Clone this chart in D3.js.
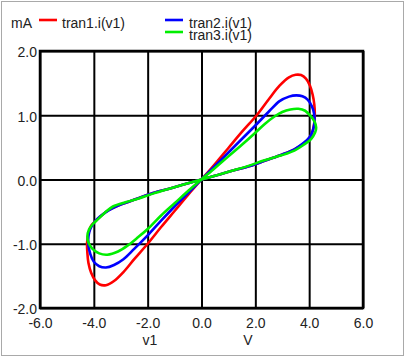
<!DOCTYPE html>
<html>
<head>
<meta charset="utf-8">
<script src="https://cdn.jsdelivr.net/npm/d3@7"></script>
<style>
html,body{margin:0;padding:0;background:#fff;}
svg{display:block;}
text{font-family:"Liberation Sans",Arial,sans-serif;}
</style>
</head>
<body>
<svg id="chart" width="406" height="358"></svg>
<script>
// ---- data (v1 in V, current in mA) ----
const xTicks = [-6, -4, -2, 0, 2, 4, 6];
const yTicks = [-2, -1, 0, 1, 2];
const seriesNames = ["tran1.i(v1)", "tran2.i(v1)", "tran3.i(v1)"];
const seriesColors = ["#ff0000", "#0000ff", "#00ee00"];

const tran1 = [[0,0],[0.6,0.07],[1.17,0.14],[1.8,0.21],[2.4,0.3],[3.0,0.39],[3.45,0.47],[3.8,0.56],[4.0,0.64],[4.12,0.74],[4.19,0.88],[4.21,1.02],[4.19,1.17],[4.13,1.32],[4.03,1.46],[3.88,1.57],[3.7,1.625],[3.5,1.63],[3.25,1.59],[2.9,1.46],[2.5,1.25],[2.05,1.0],[1.5,0.74],[1.0,0.49],[0.5,0.24],
  [-0.5,-0.24],[-1.0,-0.49],[-1.5,-0.74],[-2.0,-1.0],[-2.5,-1.24],[-2.9,-1.44],[-3.25,-1.58],[-3.55,-1.645],[-3.78,-1.635],[-3.95,-1.57],[-4.1,-1.45],[-4.2,-1.3],[-4.24,-1.14],[-4.25,-0.98],[-4.2,-0.84],[-4.1,-0.72],[-3.9,-0.63],[-3.5,-0.49],[-3.0,-0.39],[-2.4,-0.3],[-1.8,-0.21],[-1.17,-0.14],[-0.6,-0.07]];

const tran2 = [[0,0],[0.6,0.07],[1.17,0.14],[1.8,0.21],[2.4,0.3],[3.0,0.39],[3.45,0.47],[3.8,0.57],[4.02,0.66],[4.14,0.77],[4.2,0.9],[4.18,1.03],[4.1,1.14],[3.95,1.24],[3.75,1.295],[3.52,1.31],[3.25,1.29],[2.9,1.22],[2.53,1.07],[2.0,0.84],[1.5,0.63],[1.0,0.42],[0.5,0.21],
  [-0.5,-0.21],[-1.0,-0.42],[-1.5,-0.64],[-2.0,-0.87],[-2.5,-1.08],[-2.9,-1.24],[-3.25,-1.33],[-3.55,-1.37],[-3.8,-1.35],[-4.0,-1.28],[-4.13,-1.16],[-4.2,-1.02],[-4.2,-0.88],[-4.12,-0.76],[-3.95,-0.65],[-3.75,-0.57],[-3.45,-0.48],[-3.0,-0.39],[-2.4,-0.3],[-1.8,-0.21],[-1.17,-0.14],[-0.6,-0.07]];

const tran3 = [[0,0],[0.6,0.07],[1.17,0.14],[1.8,0.22],[2.34,0.3],[3.0,0.38],[3.45,0.45],[3.8,0.54],[4.07,0.63],[4.22,0.73],[4.26,0.81],[4.2,0.9],[4.05,0.99],[3.85,1.07],[3.6,1.1],[3.3,1.09],[3.0,1.05],[2.71,0.98],[2.34,0.86],[1.98,0.72],[1.5,0.54],[1.0,0.36],[0.5,0.18],
  [-0.5,-0.18],[-1.0,-0.37],[-1.5,-0.56],[-2.0,-0.77],[-2.36,-0.9],[-2.75,-1.03],[-3.1,-1.12],[-3.5,-1.17],[-3.8,-1.15],[-4.05,-1.08],[-4.2,-0.98],[-4.24,-0.89],[-4.18,-0.78],[-4.05,-0.7],[-3.9,-0.64],[-3.6,-0.52],[-3.29,-0.42],[-2.8,-0.35],[-2.36,-0.3],[-1.8,-0.22],[-1.17,-0.14],[-0.6,-0.07]];

const series = [tran1, tran2, tran3];

// ---- layout ----
const svg = d3.select("#chart");
const L = 40, R = 363, T = 51, B = 308;
const W = R - L, H = B - T;
const textColor = "#222";

// outer window border
svg.append("rect").attr("x", 0).attr("y", 0).attr("width", 406).attr("height", 358).attr("fill", "#fff");
svg.append("rect").attr("x", 1.5).attr("y", 1.5).attr("width", 402).attr("height", 354)
  .attr("fill", "none").attr("stroke", "#a9a9a9").attr("stroke-width", 1);

const x = d3.scaleLinear().domain([-6, 6]).range([L, R]);
const y = d3.scaleLinear().domain([-2, 2]).range([B, T]);
const fmt = d => d.toFixed(1);

// grid + tick labels via axes
const gx = svg.append("g").attr("transform", `translate(0,${B})`)
  .call(d3.axisBottom(x).tickValues(xTicks).tickFormat(fmt).tickSizeInner(-H).tickSizeOuter(0).tickPadding(10));
const gy = svg.append("g").attr("transform", `translate(${L},0)`)
  .call(d3.axisLeft(y).tickValues(yTicks).tickFormat(fmt).tickSizeInner(-W).tickSizeOuter(0).tickPadding(3));
[gx, gy].forEach(g => {
  g.select(".domain").remove();
  g.selectAll(".tick line").attr("stroke", "#000").attr("stroke-width", 2);
  g.selectAll(".tick text").attr("fill", textColor).style("font-size", "14px")
    .style("font-family", '"Liberation Sans", Arial, sans-serif');
});
gy.selectAll(".tick text").attr("dy", "0.42em");

// frame
svg.append("rect").attr("x", L).attr("y", T).attr("width", W).attr("height", H)
  .attr("fill", "none").attr("stroke", "#000").attr("stroke-width", 2.5);

// curves
const clip = svg.append("clipPath").attr("id", "pc").append("rect")
  .attr("x", L).attr("y", T).attr("width", W).attr("height", H);
const line = d3.line().x(d => x(d[0])).y(d => y(d[1])).curve(d3.curveCatmullRomClosed.alpha(0.5));
series.forEach((s, k) => {
  svg.append("path").datum(s).attr("d", line).attr("fill", "none")
    .attr("stroke", seriesColors[k]).attr("stroke-width", 2.6).attr("stroke-linejoin", "round")
    .attr("clip-path", "url(#pc)");
});

// axis titles
svg.append("text").attr("x", 150).attr("y", 345).attr("text-anchor", "middle")
  .attr("fill", textColor).style("font-size", "14px").text("v1");
svg.append("text").attr("x", 248).attr("y", 345).attr("text-anchor", "middle")
  .attr("fill", textColor).style("font-size", "14px").text("V");

// legend
svg.append("text").attr("x", 11).attr("y", 28).attr("fill", textColor).style("font-size", "14px").text("mA");
const legendPos = [{lx: 39, ly: 20, tx: 62, ty: 28}, {lx: 165, ly: 20, tx: 189, ty: 28}, {lx: 165, ly: 32, tx: 189, ty: 39.5}];
seriesNames.forEach((n, k) => {
  const p = legendPos[k];
  svg.append("line").attr("x1", p.lx).attr("x2", p.lx + 18).attr("y1", p.ly).attr("y2", p.ly)
    .attr("stroke", seriesColors[k]).attr("stroke-width", 2.6);
  svg.append("text").attr("x", p.tx).attr("y", p.ty).attr("fill", textColor).style("font-size", "14px").text(n);
});
</script>
</body>
</html>
